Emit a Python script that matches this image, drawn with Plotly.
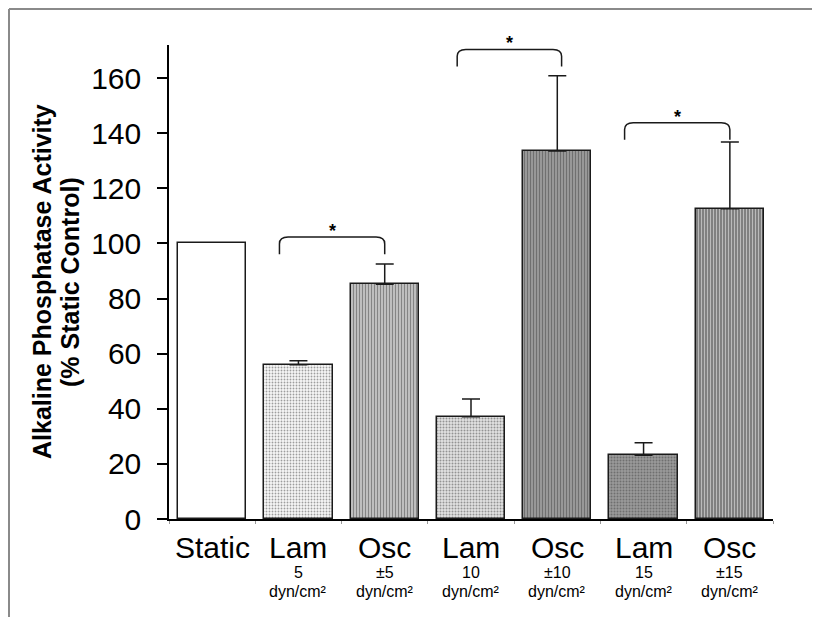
import plotly.graph_objects as go

# ---- data ----
categories = ["Static", "Lam", "Osc", "Lam", "Osc", "Lam", "Osc"]
magnitudes = ["", "5", "±5", "10", "±10", "15", "±15"]
units = ["", "dyn/cm²", "dyn/cm²", "dyn/cm²", "dyn/cm²", "dyn/cm²", "dyn/cm²"]
activity = [100, 56, 85.2, 37.1, 133.5, 23.1, 112.6]
error_up = [0, 1.4, 7.3, 6.4, 27.3, 4.6, 24.2]
y_ticks = [0, 20, 40, 60, 80, 100, 120, 140, 160]

# significance brackets: (left x, right x, top y)
bracket_left = [0.78, 2.84, 4.78]
bracket_right = [2.0, 4.05, 6.0]
bracket_top = [102.3, 170.4, 143.8]

# ---- styles ----
shapes_pat = ["", ".", "|", ".", "|", ".", "|"]
fill_col = ["#ffffff", "#f7f7f7", "#c4c4c4", "#e2e2e2", "#9c9c9c", "#9a9a9a", "#747474"]
pat_fg = ["#ffffff", "#d6d6d6", "#8c8c8c", "#bdbdbd", "#666666", "#cacaca", "#383838"]
pat_size = [3, 3, 3, 3, 3, 3, 3]
pat_sol = [0.3, 0.3, 0.4, 0.35, 0.4, 0.35, 0.45]

x = list(range(len(categories)))

fig = go.Figure()
fig.add_trace(go.Bar(
    x=x, y=activity, width=0.79,
    marker=dict(
        color=fill_col,
        line=dict(color="#1a1a1a", width=1.5),
        pattern=dict(shape=shapes_pat, fgcolor=pat_fg,
                     size=pat_size, solidity=pat_sol, fillmode="overlay"),
    ),
    showlegend=False,
))

# error bars only where an error was measured
err_idx = [i for i, e in enumerate(error_up) if e]
fig.add_trace(go.Scatter(
    x=[x[i] for i in err_idx], y=[activity[i] for i in err_idx],
    mode="markers", marker=dict(size=0.1, color="rgba(0,0,0,0)"),
    error_y=dict(type="data", symmetric=False, array=[error_up[i] for i in err_idx],
                 arrayminus=[0] * len(err_idx), color="#1a1a1a", thickness=1.5, width=9),
    showlegend=False, hoverinfo="skip", cliponaxis=False,
))

# page has an 8px body margin; figure is placed at (8, 8)
OFF = 8
W, H = 820 - OFF, 617 - OFF
ml, mr, mt, mb = 169 - OFF, 47, 45 - OFF, 98
pw, ph = W - ml - mr, H - mt - mb

font_main = "Liberation Sans, Arial, sans-serif"

annotations = []
for i, c in enumerate(categories):
    annotations.append(dict(x=i, y=-28 / ph, xref="x", yref="paper", text=c,
                            showarrow=False, font=dict(family=font_main, size=30, color="black"),
                            xanchor="center", yanchor="middle"))
    if magnitudes[i]:
        annotations.append(dict(x=i, y=-53 / ph, xref="x", yref="paper", text=magnitudes[i],
                                showarrow=False, font=dict(family=font_main, size=16, color="black"),
                                xanchor="center", yanchor="middle"))
        annotations.append(dict(x=i, y=-72 / ph, xref="x", yref="paper", text=units[i],
                                showarrow=False, font=dict(family=font_main, size=16, color="black"),
                                xanchor="center", yanchor="middle"))

# y-axis title (two lines)
for txt, cx in [("Alkaline Phosphatase Activity", 42), ("(% Static Control)", 70)]:
    annotations.append(dict(x=(cx - 169) / pw, y=0.5, xref="paper", yref="paper",
                            text=f"<b>{txt}</b>", textangle=-90, showarrow=False,
                            font=dict(family=font_main, size=25, color="black"),
                            xanchor="center", yanchor="middle"))

shapes = []
drop = 6.2
rx = 0.1
for xl, xr, yt in zip(bracket_left, bracket_right, bracket_top):
    yb = yt - drop
    ym = yt - drop * 0.4
    path = (f"M {xl},{yb} L {xl},{ym} Q {xl},{yt} {xl + rx},{yt} "
            f"L {xr - rx},{yt} Q {xr},{yt} {xr},{ym} L {xr},{yb}")
    shapes.append(dict(type="path", path=path, xref="x", yref="y",
                       line=dict(color="#1a1a1a", width=1.5)))
    annotations.append(dict(x=(xl + xr) / 2, y=yt, xref="x", yref="y", text="<b>*</b>",
                            showarrow=False, font=dict(family=font_main, size=18, color="black"),
                            xanchor="center", yanchor="bottom", yshift=-6))

# outer frame (gray), left and top edges
fx0 = (1 - ml) / pw
fy1 = 1 + (mt - 1) / ph
fx1 = (W - ml) / pw
fy0 = -mb / ph
shapes.append(dict(type="line", xref="paper", yref="paper", x0=fx0, x1=fx0, y0=fy0, y1=fy1,
                   line=dict(color="#8a8a8a", width=2)))
shapes.append(dict(type="line", xref="paper", yref="paper", x0=fx0, x1=fx1, y0=fy1, y1=fy1,
                   line=dict(color="#8a8a8a", width=2)))

fig.update_layout(
    width=W, height=H,
    margin=dict(l=ml, r=mr, t=mt, b=mb, pad=0),
    paper_bgcolor="white", plot_bgcolor="white",
    annotations=annotations, shapes=shapes,
    bargap=0,
    xaxis=dict(range=[-0.5, 6.5], showgrid=False, zeroline=False,
               showline=True, linecolor="black", linewidth=1.5,
               tickvals=x, showticklabels=False, ticks="",
               minor=dict(tick0=0.5, dtick=1, ticks="outside", ticklen=3,
                          tickcolor="#999999", tickwidth=1)),
    yaxis=dict(range=[0, 172], showgrid=False, zeroline=False,
               showline=True, linecolor="black", linewidth=1.5,
               tickvals=y_ticks, ticks="outside", ticklen=10, tickwidth=1.5,
               tickcolor="black", ticklabelstandoff=10,
               tickfont=dict(family=font_main, size=30, color="black")),
)

fig.write_html("out.html", config={"displayModeBar": False})
